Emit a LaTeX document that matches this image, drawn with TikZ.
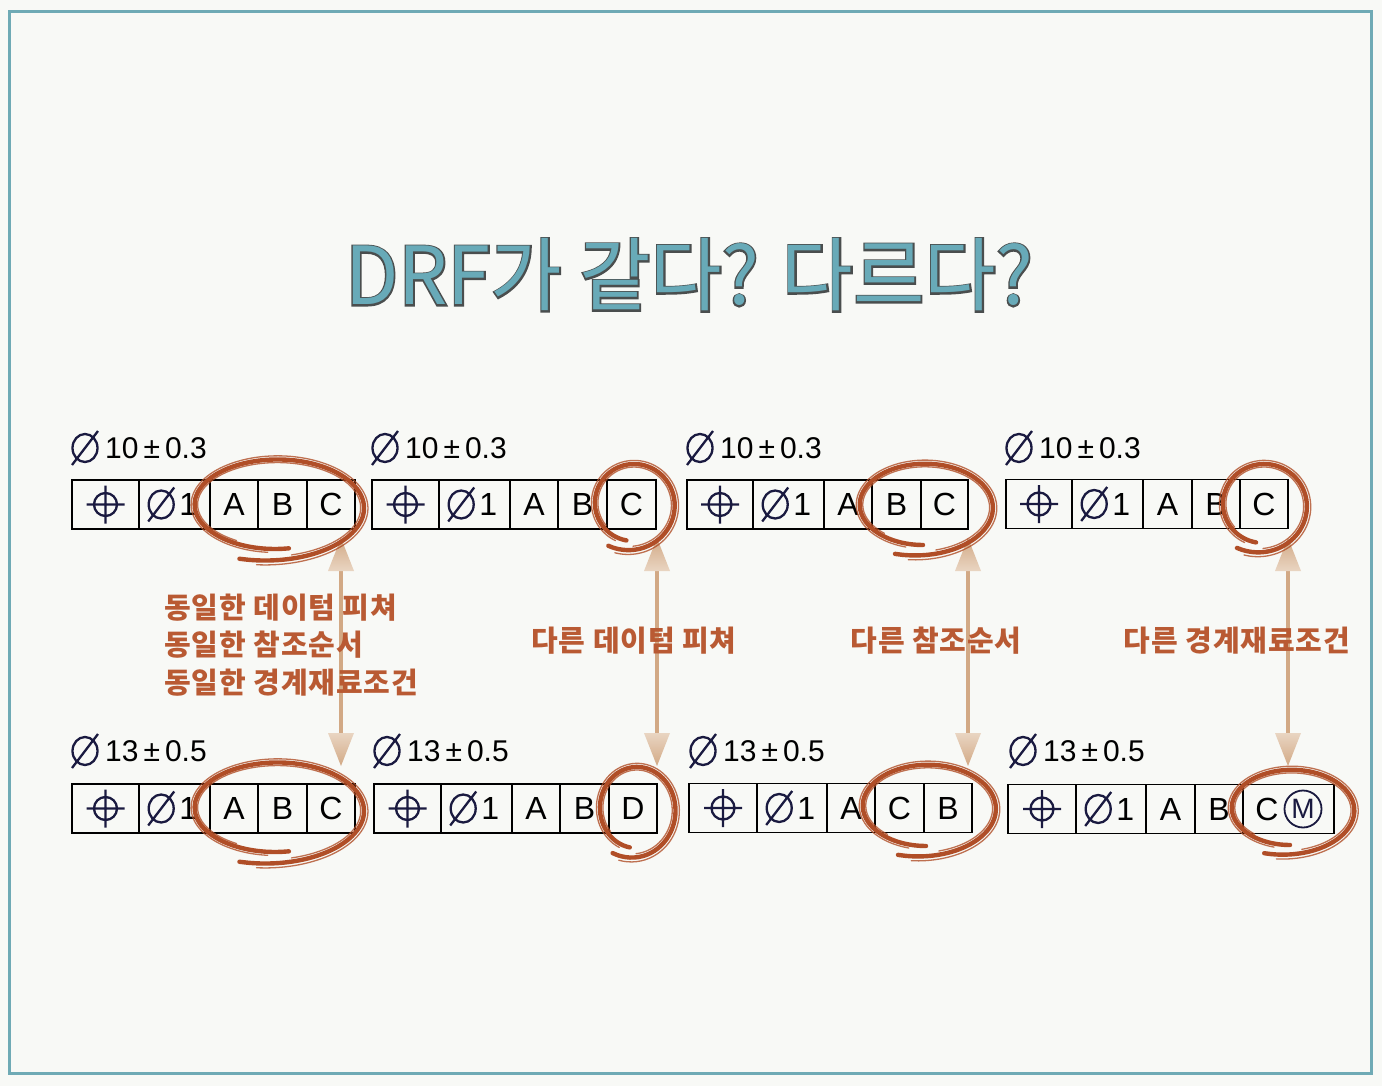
\documentclass[tikz,border=0pt]{standalone}
\usepackage{fontspec}
\setmainfont{Liberation Sans}
\newfontfamily\kr{Noto Sans CJK KR}[LetterSpace=3]
\newfontfamily\ttlo{Noto Sans CJK KR}[FakeBold=4]
\newfontfamily\ttlf{Noto Sans CJK KR}
\usetikzlibrary{calc}
\definecolor{bgc}{HTML}{F8F9F6}
\definecolor{bordc}{HTML}{6FAAB5}
\definecolor{ttlfill}{HTML}{68AAB8}
\definecolor{ttlline}{HTML}{4A4E4E}
\definecolor{ringc}{HTML}{B04E27}
\definecolor{lblc}{HTML}{B95A33}
\definecolor{tanc}{HTML}{D2A985}
\definecolor{tanl}{HTML}{E9D5C2}
\definecolor{navy}{HTML}{1A1A40}
\tikzset{
  fcell/.style={draw=black, line width=1.6pt, minimum height=49pt, inner sep=0pt},
  ltr/.style={font=\fontsize{32}{38}\selectfont, text=black, inner sep=0pt},
  dimtxt/.style={font=\fontsize{30}{36}\selectfont, text=black, inner sep=0pt, anchor=west},
  lbl/.style={font=\kr\bfseries\fontsize{29}{37.5}\selectfont, text=lblc, inner sep=0pt},
  ringst/.style={draw=ringc, line width=4.4pt, line cap=round, line join=round},
  ringthin/.style={draw=ringc, line width=1.3pt, line cap=round, opacity=0.8},
  possym/.pic={\draw[navy, line width=2.3pt] (0,0) circle (11.5) (-19,0) -- (19,0) (0,-19) -- (0,19);},
  diasym/.pic={\draw[navy, line width=2.3pt] (0,0) ellipse (12.5 and 14) (-13,17) -- (13,-17);}
}
\newcommand\fcf[8]{%
  \node[fcell, minimum width={#4-#3}] (#1-1) at ({(#3+#4)/2},#2) {};
  \node[fcell, minimum width={#5-#4}] (#1-2) at ({(#4+#5)/2},#2) {};
  \node[fcell, minimum width={#6-#5}] (#1-3) at ({(#5+#6)/2},#2) {};
  \node[fcell, minimum width={#7-#6}] (#1-4) at ({(#6+#7)/2},#2) {};
  \node[fcell, minimum width={#8-#7}] (#1-5) at ({(#7+#8)/2},#2) {};
  \pic at (#1-1.center) {possym};
  \pic at ($(#1-2.west)+(23,0)$) {diasym};
  \node[ltr] (#1-one) at ($(#1-2.west)+(50,0)$) {1};
}
% cx, rx, cy, ry, t0, t1
\newcommand\ring[6]{%
  \draw[ringst] plot[smooth, domain=#5:#6, samples=70, variable=\ang]
   ({#1+#2*(1+0.3*pow((\ang-#5)/(#6-#5),3))*cos(\ang)},
    {#3+#4*(1+0.3*pow((\ang-#5)/(#6-#5),3))*sin(\ang)});
  \draw[ringthin] plot[smooth, domain=#5+15:#6-10, samples=70, variable=\ang]
   ({#1+(#2+3.5)*(1+0.3*pow((\ang-#5)/(#6-#5),3))*cos(\ang)},
    {#3+(#4+3.5)*(1+0.3*pow((\ang-#5)/(#6-#5),3))*sin(\ang)});
  \draw[ringthin] plot[smooth, domain=#5+40:#6-30, samples=70, variable=\ang]
   ({#1+(#2-3)*(1+0.3*pow((\ang-#5)/(#6-#5),3))*cos(\ang)},
    {#3+(#4-3)*(1+0.3*pow((\ang-#5)/(#6-#5),3))*sin(\ang)});
}
\newcommand\darrow[2]{% name, x
  \coordinate (#1t) at (#2,538);
  \coordinate (#1b) at (#2,766);
  \shade[top color=tanc, middle color=bgc, bottom color=tanc] ($(#1t)+(-1.7,30)$) rectangle ($(#1b)+(1.7,-30)$);
  \shade[top color=tanc, bottom color=tanl] (#1t) -- ++(-13,33) -- ++(26,0) -- cycle;
  \shade[top color=tanl, bottom color=tanc] (#1b) -- ++(-13,-33) -- ++(26,0) -- cycle;
}
\newcommand\dimval[2]{#1\kern5pt±\kern5pt#2}
\begin{document}
\begin{tikzpicture}[x=1pt, y=-1pt]
\useasboundingbox (0,0) rectangle (1382,1086);
\fill[bgc] (0,0) rectangle (1382,1086);
\draw[bordc, line width=3pt] (9,12) rectangle (1371,1073);
% title
\node[text=ttlline, font=\ttlo\fontsize{80}{90}\selectfont, inner sep=0pt] (titleol) at (689,275) {\scalebox{0.97}[1]{DRF가 같다? 다르다?}};
\node[text=ttlfill, font=\ttlf\fontsize{80}{90}\selectfont, inner sep=0pt] (title) at (689,275) {\scalebox{0.97}[1]{DRF가 같다? 다르다?}};
% dimension labels
\foreach \n/\x/\y/\a/\b in {d1/72/448/10/0.3, d2/372/448/10/0.3, d3/687/448/10/0.3, d4/1006/448/10/0.3,
                         d5/72/751/13/0.5, d6/374/751/13/0.5, d7/690/751/13/0.5, d8/1010/751/13/0.5}{
  \pic at (\x+13,\y) {diasym};
  \node[dimtxt] (\n) at (\x+33,\y) {\dimval{\a}{\b}};
}
% frames
\fcf{T1}{504.5}{72}{139}{210}{258}{307}{355}
\fcf{T2}{504.5}{372}{439}{510}{558}{607}{656}
\fcf{T3}{504.5}{687}{753}{824}{872}{921}{968}
\fcf{T4}{504}{1006}{1072}{1143}{1192}{1240}{1288}
\fcf{B1}{808.5}{72}{139}{210}{258}{307}{355}
\fcf{B2}{808.5}{374}{441}{512}{560}{609}{657}
\fcf{B3}{808}{689}{757}{827}{875}{924}{972}
\fcf{B4}{809}{1008}{1076}{1146}{1195}{1243}{1334}
\node[ltr] at (T1-3) {A}; \node[ltr] at (T1-4) {B}; \node[ltr] at (T1-5) {C};
\node[ltr] at (T2-3) {A}; \node[ltr] at (T2-4) {B}; \node[ltr] at (T2-5) {C};
\node[ltr] at (T3-3) {A}; \node[ltr] at (T3-4) {B}; \node[ltr] at (T3-5) {C};
\node[ltr] at (T4-3) {A}; \node[ltr] at (T4-4) {B}; \node[ltr] at (T4-5) {C};
\node[ltr] at (B1-3) {A}; \node[ltr] at (B1-4) {B}; \node[ltr] at (B1-5) {C};
\node[ltr] at (B2-3) {A}; \node[ltr] at (B2-4) {B}; \node[ltr] at (B2-5) {D};
\node[ltr] at (B3-3) {A}; \node[ltr] at (B3-4) {C}; \node[ltr] at (B3-5) {B};
\node[ltr] at (B4-3) {A}; \node[ltr] at (B4-4) {B};
\node[ltr] (B4c) at (1267,809) {C};
\node[draw=navy, line width=1.8pt, circle, minimum size=37pt, inner sep=0pt,
      font=\fontsize{28}{30}\selectfont, text=navy] (B4m) at (1303,809) {M};
% arrows
\darrow{a1}{341}
\darrow{a2}{657}
\darrow{a3}{968}
\darrow{a4}{1288}
% labels
\node[lbl, align=left, anchor=west] (l1) at (164,645) {동일한 데이텀 피쳐\\동일한 참조순서\\동일한 경계재료조건};
\node[lbl] (l2) at (634,641) {다른 데이텀 피쳐};
\node[lbl] (l3) at (936,641) {다른 참조순서};
\node[lbl] (l4) at (1237,641) {다른 경계재료조건};
% rings
\ring{275}{80}{505}{44}{80}{470}
\ring{633}{38}{503}{38}{100}{480}
\ring{923}{63}{505}{40}{90}{470}
\ring{1263}{40}{504}{39}{100}{480}
\ring{275}{80}{808}{44}{80}{470}
\ring{636}{36}{808}{40}{100}{480}
\ring{926}{63}{806}{40}{90}{470}
\ring{1290}{58}{808}{37}{90}{470}
\end{tikzpicture}
\end{document}
